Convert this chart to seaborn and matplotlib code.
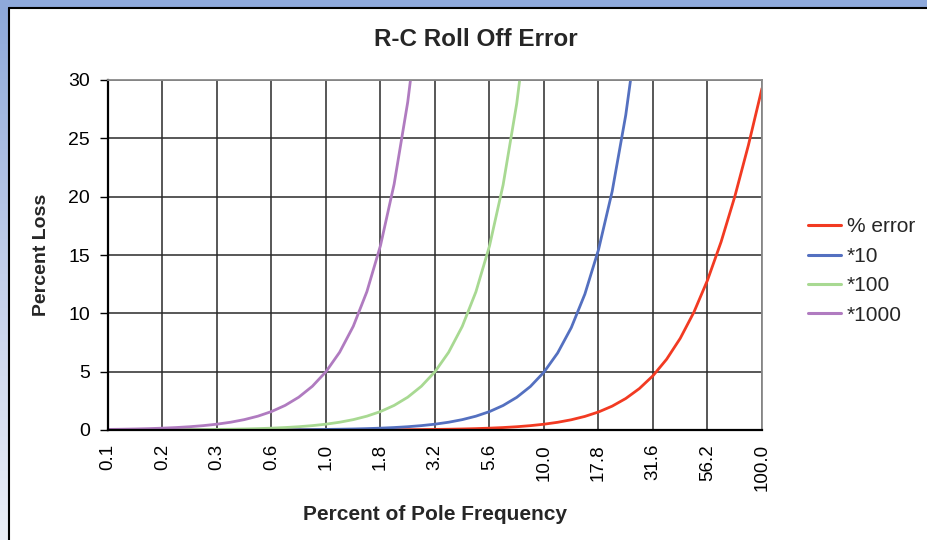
import numpy as np
import pandas as pd
import matplotlib
matplotlib.use("Agg")
import matplotlib.pyplot as plt
import seaborn as sns
from matplotlib.patches import Rectangle
from matplotlib.lines import Line2D
from matplotlib.ticker import NullLocator

# ---- data ----
freq = [0.1, 0.1155, 0.1334, 0.154, 0.1778, 0.2054, 0.2371, 0.2738,
        0.3162, 0.3652, 0.4217, 0.487, 0.5623, 0.6494, 0.7499, 0.866,
        1.0, 1.155, 1.334, 1.54, 1.778, 2.054, 2.371, 2.738,
        3.162, 3.652, 4.217, 4.87, 5.623, 6.494, 7.499, 8.66,
        10.0, 11.55, 13.34, 15.4, 17.78, 20.54, 23.71, 27.38,
        31.62, 36.52, 42.17, 48.7, 56.23, 64.94, 74.99, 86.6, 100.0]

pct_error = [0.00005, 0.000067, 0.000089, 0.000119, 0.000158, 0.000211, 0.000281, 0.000375,
             0.0005, 0.00067, 0.00089, 0.00119, 0.00158, 0.00211, 0.00281, 0.00375,
             0.005, 0.0067, 0.0089, 0.0119, 0.0158, 0.0211, 0.0281, 0.0375,
             0.04996, 0.0666, 0.0888, 0.1184, 0.1577, 0.2102, 0.28, 0.3728,
             0.4963, 0.6602, 0.8775, 1.165, 1.5446, 2.0441, 2.6984, 3.5509,
             4.6537, 6.067, 7.858, 10.094, 12.837, 16.133, 19.996, 24.405, 29.289]

times10 = [0.0005, 0.00067, 0.00089, 0.00119, 0.00158, 0.00211, 0.00281, 0.00375,
           0.005, 0.0067, 0.0089, 0.0119, 0.0158, 0.0211, 0.0281, 0.0375,
           0.05, 0.0667, 0.0889, 0.1186, 0.1581, 0.2108, 0.2811, 0.3749,
           0.4996, 0.6661, 0.8879, 1.1836, 1.5774, 2.1018, 2.7998, 3.728,
           4.963, 6.602, 8.775, 11.65, 15.446, 20.441, 26.984, 35.509,
           None, None, None, None, None, None, None, None, None]

times100 = [0.005, 0.0067, 0.0089, 0.0119, 0.0158, 0.0211, 0.0281, 0.0375,
            0.05, 0.0667, 0.0889, 0.1186, 0.1581, 0.2109, 0.2812, 0.3749,
            0.5, 0.6667, 0.8891, 1.1856, 1.5809, 2.1081, 2.8109, 3.749,
            4.996, 6.661, 8.879, 11.836, 15.774, 21.018, 27.998, 37.28,
            None, None, None, None, None, None, None, None,
            None, None, None, None, None, None, None, None, None]

times1000 = [0.05, 0.0667, 0.0889, 0.1186, 0.1581, 0.2109, 0.2812, 0.3749,
             0.5, 0.6667, 0.8892, 1.1857, 1.5811, 2.1085, 2.8117, 3.7494,
             5.0, 6.667, 8.891, 11.857, 15.81, 21.08, 28.11, 37.49,
             None, None, None, None, None, None, None, None,
             None, None, None, None, None, None, None, None,
             None, None, None, None, None, None, None, None, None]

series_names = ["% error", "*10", "*100", "*1000"]
series_colors = ["#F23A22", "#5470C0", "#A8D992", "#B07BC0"]
tick_freqs = [0.1, 0.1778, 0.3162, 0.5623, 1.0, 1.778, 3.162, 5.623,
              10.0, 17.78, 31.62, 56.23, 100.0]
tick_labels = ["0.1", "0.2", "0.3", "0.6", "1.0", "1.8", "3.2", "5.6",
               "10.0", "17.8", "31.6", "56.2", "100.0"]
y_ticks = [0, 5, 10, 15, 20, 25, 30]

title = "R-C Roll Off Error"
xlabel = "Percent of Pole Frequency"
ylabel = "Percent Loss"

# ---- long-form table ----
frames = []
for name, vals in zip(series_names, [pct_error, times10, times100, times1000]):
    frames.append(pd.DataFrame({"freq": freq,
                                "loss": pd.to_numeric(pd.Series(vals), errors="coerce"),
                                "series": name}))
df = pd.concat(frames, ignore_index=True).dropna()

sns.set_theme(style="white")
plt.rcParams["font.family"] = ["Liberation Sans", "DejaVu Sans"]

W, H = 928, 540
fig = plt.figure(figsize=(W / 100, H / 100), dpi=100)
fig.patch.set_facecolor("white")

# frame decoration: blue strip on top, gradient strip on left
fig.patches.append(Rectangle((0, 1 - 8 / H), 1, 8 / H, transform=fig.transFigure,
                             facecolor="#8EA9DB", edgecolor="none", zorder=0))
gax = fig.add_axes([0, 0, 9 / W, 1 - 8 / H])
grad = np.linspace(0, 1, 256).reshape(-1, 1)
cmap = matplotlib.colors.LinearSegmentedColormap.from_list("g", ["#8EA9DB", "#C3CFEA", "#EAEEF7"])
gax.imshow(grad, aspect="auto", cmap=cmap)
gax.axis("off")
fig.add_artist(Line2D([9.5 / W, 9.5 / W], [0, 1 - 7.5 / H], transform=fig.transFigure,
                      color="black", lw=1.5))
fig.add_artist(Line2D([9.5 / W, 1], [1 - 7.5 / H, 1 - 7.5 / H], transform=fig.transFigure,
                      color="black", lw=1.5))

ax = fig.add_axes([108 / W, 110 / H, 654 / W, 350 / H])
sns.lineplot(data=df, x="freq", y="loss", hue="series", hue_order=series_names,
             palette=series_colors, linewidth=2.0, ax=ax, legend=False, sort=False)
ax.set_xscale("log")
ax.set_xlim(0.1, 100)
ax.set_ylim(0, 30)
ax.set_xticks(tick_freqs)
ax.set_xticklabels(tick_labels, rotation=90, fontsize=13.5)
ax.xaxis.set_minor_locator(NullLocator())
ax.set_yticks(y_ticks)
ax.set_yticklabels([str(v) for v in y_ticks], fontsize=14)
ax.grid(True, color="#2a2a2a", lw=1.1)
ax.set_axisbelow(True)
ax.tick_params(axis="x", length=0, pad=10, colors="black")
ax.tick_params(axis="y", length=6, width=1, direction="out", left=True, pad=7, colors="black")
for s in ["left", "bottom"]:
    ax.spines[s].set_color("black")
    ax.spines[s].set_linewidth(1.6)
for s in ["top", "right"]:
    ax.spines[s].set_color("#8a8a8a")
    ax.spines[s].set_linewidth(1.3)
ax.set_xlabel("")
ax.set_ylabel("")

fig.text(476 / W, 1 - 40 / H, title, ha="center", va="center", fontsize=17.5, fontweight="bold")
fig.text(435 / W, 1 - 515 / H, xlabel, ha="center", va="center", fontsize=15, fontweight="bold")
fig.text(42 / W, 1 - 255 / H, ylabel, ha="center", va="center", rotation=90,
         fontsize=14, fontweight="bold")

handles = [Line2D([0], [0], color=c, lw=2.2) for c in series_colors]
fig.legend(handles, series_names, loc="center left", bbox_to_anchor=(800 / W, 1 - 271 / H),
           frameon=False, fontsize=15, handlelength=1.55, handletextpad=0.3,
           labelspacing=0.5, borderaxespad=0)

fig.savefig("out.png", dpi=100, facecolor="white")
